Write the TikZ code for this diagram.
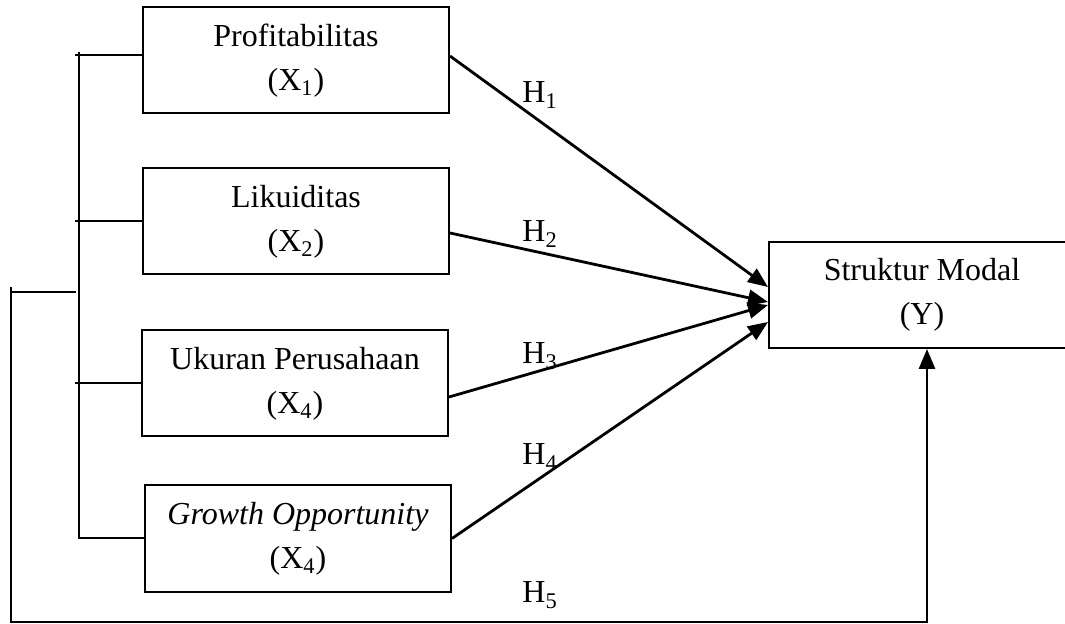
\documentclass[tikz,border=0pt]{standalone}
\usepackage{fontspec}
\setmainfont{Liberation Serif}
\usetikzlibrary{arrows.meta}

\tikzstyle{block} = [rectangle, draw, line width=1pt, align=center, minimum width=153pt, minimum height=53pt]
\tikzstyle{arrow} = [line width=1.4pt, -{Triangle[length=10pt,width=8pt]}]
\tikzstyle{hlabel} = [anchor=base west, inner sep=0pt]

\begin{document}
\begin{tikzpicture}[x=0.5pt, y=-0.5pt, font=\fontsize{16}{22}\selectfont]
\useasboundingbox (0,0) rectangle (1065,624);
\node (profitabilitas) [block] at (296,60.5) {Profitabilitas\\(X\textsubscript{1})};
\node (likuiditas) [block] at (296,221.5) {Likuiditas\\(X\textsubscript{2})};
\node (ukuranPerusahaan) [block] at (295,383.5) {Ukuran Perusahaan\\(X\textsubscript{4})};
\node (growthOpportunity) [block] at (298,538.5) {\textit{Growth Opportunity}\\(X\textsubscript{4})};
\node (strukturModal) [block] at (922,295) {Struktur Modal\\(Y)};

\coordinate (busTop) at (79,52);
\coordinate (outerTop) at (76,292);

% bracket on the left
\draw [line width=1pt] (busTop) |- (growthOpportunity.west);
\draw [line width=1pt] (75,55) -- ([yshift=2.75pt]profitabilitas.west);
\draw [line width=1pt] (75,221.5) -- (likuiditas.west);
\draw [line width=1pt] (75,383.5) -- (ukuranPerusahaan.west);

\draw [arrow] ([yshift=2.25pt]profitabilitas.east) -- ([yshift=4pt]strukturModal.west);
\draw [arrow] ([yshift=-5.75pt]likuiditas.east) -- ([yshift=-3.5pt]strukturModal.west);
\draw [arrow] ([yshift=-6.75pt]ukuranPerusahaan.east) -- ([yshift=-5pt]strukturModal.west);
\draw [arrow] (growthOpportunity.east) -- ([yshift=-13.5pt]strukturModal.west);
\draw [line width=1pt] (11,287) -- (11,292) -- (outerTop);
\draw [arrow] (11,290) -- (11,622) -| ([xshift=2.5pt]strukturModal.south);

\node [hlabel] at (522,103) {H\textsubscript{1}};
\node [hlabel] at (522,242) {H\textsubscript{2}};
\node [hlabel] at (522,364) {H\textsubscript{3}};
\node [hlabel] at (522,465) {H\textsubscript{4}};
\node [hlabel] at (522,603) {H\textsubscript{5}};
\end{tikzpicture}
\end{document}
